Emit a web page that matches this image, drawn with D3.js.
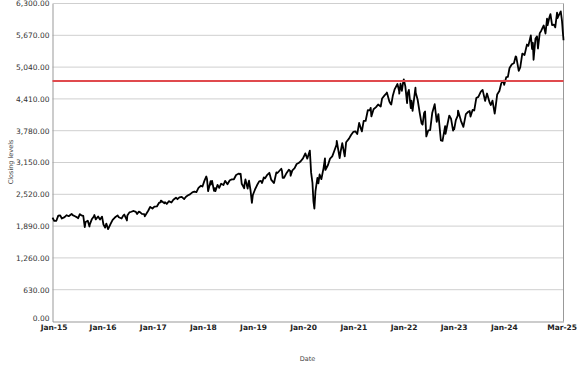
<!DOCTYPE html>
<html>
<head>
<meta charset="utf-8">
<script src="https://cdn.jsdelivr.net/npm/d3@7"></script>
<style>
  body { margin: 0; background: #fff; }
  svg { display: block; font-family: "DejaVu Sans", sans-serif; }
</style>
</head>
<body>
<div id="chart"></div>
<script>
// S&P 500 closing levels (key highs / lows / month ends)
const dates = [
  "2015-01-02","2015-01-15","2015-01-30","2015-02-13","2015-02-27","2015-03-11","2015-03-31","2015-04-15","2015-04-30","2015-05-21","2015-05-29","2015-06-15","2015-06-30","2015-07-08","2015-07-20","2015-07-31","2015-08-14","2015-08-25","2015-08-31","2015-09-16","2015-09-28","2015-09-30","2015-10-15","2015-10-30","2015-11-03","2015-11-13","2015-11-30","2015-12-14","2015-12-29","2015-12-31",
  "2016-01-08","2016-01-20","2016-01-29","2016-02-11","2016-02-29","2016-03-15","2016-03-31","2016-04-20","2016-04-29","2016-05-19","2016-05-31","2016-06-08","2016-06-27","2016-06-30","2016-07-15","2016-07-29","2016-08-15","2016-08-31","2016-09-09","2016-09-22","2016-09-30","2016-10-14","2016-10-31","2016-11-04","2016-11-30","2016-12-13","2016-12-30",
  "2017-01-13","2017-01-31","2017-02-15","2017-02-28","2017-03-01","2017-03-27","2017-03-31","2017-04-13","2017-04-28","2017-05-17","2017-05-31","2017-06-19","2017-06-30","2017-07-14","2017-07-31","2017-08-18","2017-08-31","2017-09-15","2017-09-29","2017-10-16","2017-10-31","2017-11-15","2017-11-30","2017-12-18","2017-12-29",
  "2018-01-12","2018-01-26","2018-01-31","2018-02-08","2018-02-26","2018-02-28","2018-03-09","2018-03-23","2018-03-29","2018-04-02","2018-04-18","2018-04-30","2018-05-14","2018-05-31","2018-06-12","2018-06-29","2018-07-16","2018-07-31","2018-08-15","2018-08-31","2018-09-20","2018-09-28","2018-10-03","2018-10-11","2018-10-29","2018-10-31","2018-11-07","2018-11-23","2018-11-30","2018-12-03","2018-12-14","2018-12-24","2018-12-31",
  "2019-01-15","2019-01-31","2019-02-15","2019-02-28","2019-03-08","2019-03-21","2019-03-29","2019-04-15","2019-04-30","2019-05-13","2019-05-31","2019-06-03","2019-06-20","2019-06-28","2019-07-26","2019-07-31","2019-08-05","2019-08-15","2019-08-30","2019-09-19","2019-09-30","2019-10-02","2019-10-15","2019-10-31","2019-11-15","2019-11-29","2019-12-13","2019-12-31",
  "2020-01-17","2020-01-31","2020-02-19","2020-02-28","2020-03-09","2020-03-16","2020-03-23","2020-03-31","2020-04-14","2020-04-21","2020-04-30","2020-05-13","2020-05-29","2020-06-08","2020-06-11","2020-06-30","2020-07-15","2020-07-31","2020-08-14","2020-08-31","2020-09-02","2020-09-23","2020-09-30","2020-10-12","2020-10-30","2020-11-09","2020-11-30","2020-12-15","2020-12-31",
  "2021-01-15","2021-01-29","2021-02-12","2021-02-26","2021-03-04","2021-03-17","2021-03-31","2021-04-16","2021-04-30","2021-05-07","2021-05-12","2021-05-28","2021-06-15","2021-06-30","2021-07-19","2021-07-29","2021-08-16","2021-08-31","2021-09-02","2021-09-20","2021-09-30","2021-10-04","2021-10-15","2021-10-29","2021-11-18","2021-11-30","2021-12-01","2021-12-10","2021-12-20","2021-12-31",
  "2022-01-03","2022-01-14","2022-01-27","2022-01-31","2022-02-09","2022-02-23","2022-02-28","2022-03-08","2022-03-29","2022-03-31","2022-04-14","2022-04-29","2022-05-12","2022-05-20","2022-05-31","2022-06-07","2022-06-16","2022-06-30","2022-07-14","2022-07-29","2022-08-16","2022-08-31","2022-09-12","2022-09-30","2022-10-12","2022-10-31","2022-11-03","2022-11-30","2022-12-13","2022-12-28","2022-12-30",
  "2023-01-05","2023-01-17","2023-01-31","2023-02-02","2023-02-24","2023-03-13","2023-03-31","2023-04-18","2023-04-28","2023-05-04","2023-05-19","2023-05-31","2023-06-15","2023-06-30","2023-07-18","2023-07-31","2023-08-18","2023-08-31","2023-09-01","2023-09-21","2023-09-29","2023-10-11","2023-10-27","2023-10-31","2023-11-14","2023-11-30","2023-12-14","2023-12-29",
  "2024-01-04","2024-01-19","2024-01-31","2024-02-12","2024-02-29","2024-03-15","2024-03-28","2024-04-01","2024-04-19","2024-04-30","2024-05-15","2024-05-31","2024-06-18","2024-06-28","2024-07-16","2024-07-25","2024-07-31","2024-08-05","2024-08-19","2024-08-30","2024-09-06","2024-09-19","2024-09-30","2024-10-18","2024-10-31","2024-11-11","2024-11-15","2024-11-29","2024-12-06","2024-12-18","2024-12-31",
  "2025-01-10","2025-01-23","2025-01-27","2025-01-31","2025-02-19","2025-02-28","2025-03-03","2025-03-06","2025-03-10","2025-03-11"
];
const closes = [
  2058,1992,1995,2097,2104,2040,2068,2106,2086,2131,2107,2085,2063,2047,2128,2104,2092,1868,1972,1996,1882,1920,2024,2079,2109,2023,2080,2022,2078,2044,
  1922,1859,1940,1829,1932,2015,2060,2102,2065,2040,2097,2119,2001,2099,2162,2174,2190,2171,2128,2177,2168,2133,2126,2085,2199,2271,2239,
  2275,2279,2349,2364,2396,2342,2363,2329,2384,2357,2412,2453,2423,2459,2470,2426,2472,2500,2519,2558,2575,2565,2648,2690,2674,
  2786,2873,2824,2581,2780,2714,2786,2588,2641,2582,2708,2648,2730,2705,2787,2718,2798,2816,2818,2902,2931,2914,2926,2728,2641,2712,2814,2633,2760,2790,2600,2351,2507,
  2611,2704,2776,2784,2743,2855,2834,2906,2946,2812,2752,2744,2954,2942,3026,2980,2844,2848,2926,3006,2977,2888,2996,3038,3120,3141,3169,3231,
  3330,3226,3386,2954,2747,2386,2237,2585,2846,2737,2912,2820,3044,3232,3002,3100,3227,3271,3373,3500,3580,3237,3363,3534,3270,3550,3622,3695,3756,
  3768,3714,3934,3811,3768,3975,3973,4185,4181,4233,4063,4204,4246,4298,4259,4419,4480,4523,4537,4358,4308,4300,4471,4605,4705,4567,4513,4712,4568,4766,
  4797,4663,4327,4516,4587,4226,4374,4171,4632,4530,4393,4132,3930,3901,4132,4161,3667,3785,3790,4130,4305,3955,4110,3586,3577,3872,3720,4080,4019,3783,3840,
  3808,3990,4077,4179,3970,3855,4109,4155,4169,4061,4192,4180,4426,4450,4555,4589,4370,4508,4516,4330,4288,4377,4117,4194,4496,4568,4720,4770,
  4688,4840,4846,5022,5096,5117,5254,5244,4967,5036,5308,5278,5487,5460,5667,5399,5522,5186,5608,5648,5408,5713,5762,5865,5705,6001,5870,6032,6090,5872,5882,
  5827,6119,6012,6041,6144,5955,5850,5739,5614,5572
];

const tickDates = ["2015-01-02","2016-01-01","2017-01-01","2018-01-01","2019-01-01","2020-01-01","2021-01-01","2022-01-01","2023-01-01","2024-01-01","2025-03-11"];
const tickLabels = ["Jan-15","Jan-16","Jan-17","Jan-18","Jan-19","Jan-20","Jan-21","Jan-22","Jan-23","Jan-24","Mar-25"];
const yTicks = [0, 630, 1260, 1890, 2520, 3150, 3780, 4410, 5040, 5670, 6300];
const refLevel = 4766.18;

const parse = d3.timeParse("%Y-%m-%d");
const n = Math.min(dates.length, closes.length);
const series = d3.range(n).map(i => ({ date: parse(dates[i]), value: closes[i] }));

const W = 577, H = 367;
const margin = { top: 3, right: 14, bottom: 46, left: 52 };
const width = W - margin.left - margin.right;
const height = H - margin.top - margin.bottom;

const svg = d3.select('#chart').append('svg')
  .attr('width', W)
  .attr('height', H);

const g = svg.append('g')
  .attr('transform', `translate(${margin.left + 0.5},${margin.top + 0.5})`);

const x = d3.scaleTime()
  .domain([parse(tickDates[0]), parse(tickDates[tickDates.length - 1])])
  .range([0, width]);

const y = d3.scaleLinear()
  .domain([0, 6300])
  .range([height, 0]);

// grid
g.append('g')
  .selectAll('line')
  .data(yTicks.filter(d => d > 0))
  .enter().append('line')
  .attr('x1', 0).attr('x2', width)
  .attr('y1', d => y(d)).attr('y2', d => y(d))
  .attr('stroke', '#cfcfcf')
  .attr('stroke-width', 1);

// y axis
const yAxis = g.append('g')
  .call(d3.axisLeft(y).tickValues(yTicks).tickSize(0).tickPadding(3).tickFormat(d3.format(',.2f')));
yAxis.select('.domain').attr('stroke', '#999');
yAxis.selectAll('text')
  .attr('font-size', '7.5px')
  .attr('font-family', '"DejaVu Sans", sans-serif')
  .attr('fill', '#333')
  .attr('dy', d => d === 0 ? '-0.15em' : '0.32em');

// x axis
const xAxis = g.append('g')
  .attr('transform', `translate(0,${height})`)
  .call(d3.axisBottom(x)
    .tickValues(tickDates.map(parse))
    .tickSize(0)
    .tickPadding(3)
    .tickFormat((d, i) => tickLabels[i]));
xAxis.select('.domain').attr('stroke', '#999');
xAxis.selectAll('text')
  .attr('font-size', '7.5px')
  .attr('font-weight', 'bold')
  .attr('font-family', '"DejaVu Sans", sans-serif')
  .attr('fill', '#222')
  .attr('text-anchor', (d, i) => i === tickLabels.length - 1 ? 'end' : 'middle')
  .attr('dx', (d, i) => i === tickLabels.length - 1 ? 13 : i === 0 ? 1 : 0);

// right border
g.append('line')
  .attr('x1', width).attr('x2', width)
  .attr('y1', 0).attr('y2', height)
  .attr('stroke', '#999');

// price line
const line = d3.line()
  .x(d => x(d.date))
  .y(d => y(d.value));

g.append('path')
  .datum(series)
  .attr('fill', 'none')
  .attr('stroke', '#000')
  .attr('stroke-width', 1.8)
  .attr('stroke-linejoin', 'round')
  .attr('d', line);

// reference level
g.append('line')
  .attr('x1', 0).attr('x2', width)
  .attr('y1', y(refLevel)).attr('y2', y(refLevel))
  .attr('stroke', '#e04a4e')
  .attr('stroke-width', 2);

// axis titles
svg.append('text')
  .attr('transform', `translate(11,${margin.top + height / 2}) rotate(-90)`)
  .attr('text-anchor', 'middle')
  .attr('dy', '0.35em')
  .attr('font-size', '6.5px')
  .attr('fill', '#444')
  .text('Closing levels');

svg.append('text')
  .attr('x', margin.left + width / 2)
  .attr('y', 361)
  .attr('text-anchor', 'middle')
  .attr('font-size', '6.5px')
  .attr('fill', '#444')
  .text('Date');
</script>
</body>
</html>
